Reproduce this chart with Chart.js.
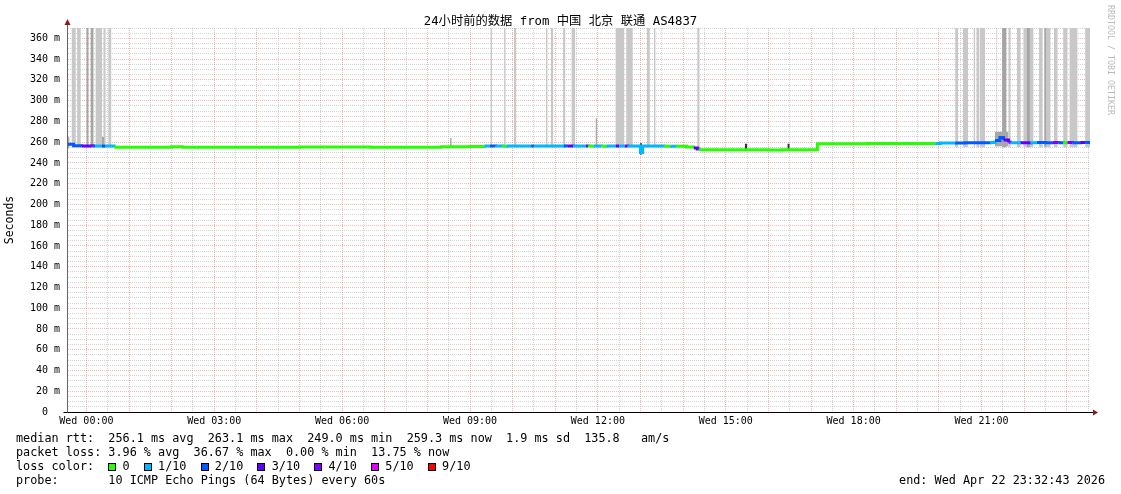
<!DOCTYPE html>
<html>
<head>
<meta charset="utf-8">
<script src="https://cdn.jsdelivr.net/npm/chart.js@4/dist/chart.umd.min.js"></script>
<style>
  body { margin: 0; background: #fff; }
  #wrap { position: relative; width: 1121px; height: 494px; overflow: hidden; }
  #chart { position: absolute; left: 0; top: 0; }
  .mono { font-family: 'DejaVu Sans Mono', 'Noto Sans CJK SC', monospace; color: #000; }
  #title { position: absolute; left: 0; top: 13px; width: 1121px; text-align: center; font-size: 12.3px; line-height: 16px; }
  #credit { position: absolute; left: 1106px; top: 5px; writing-mode: vertical-rl; font-size: 8.3px; color: #bbb; line-height: 10px; }
  #legend { position: absolute; left: 16px; top: 431px; margin: 0; font-size: 11.8px; line-height: 14px; white-space: pre; }
  #end { position: absolute; right: 16px; top: 473px; font-size: 11.8px; line-height: 14px; white-space: pre; }
  .sq { display: inline-block; width: 1ch; height: 8px; vertical-align: -1px; position: relative; }
  .sq i { position: absolute; left: 0; top: 0; width: 8px; height: 8px; box-sizing: border-box; border: 1px solid #000; }
</style>
</head>
<body>
<div id="wrap">
  <canvas id="chart" width="1121" height="494"></canvas>
  <div id="title" class="mono">24小时前的数据 from 中国 北京 联通 AS4837</div>
  <div id="credit" class="mono">RRDTOOL / TOBI OETIKER</div>
  <pre id="legend" class="mono"></pre>
  <div id="end" class="mono"></div>
</div>
<script>
// time axis is minutes from Wed 00:00, window ends Wed 23:32:43
var tStart = -27.28;
var tEnd = 1412.72;

// median rtt (ms) as steps: value holds from this time until the next one
var medTime  = [-27, -18, -7, 5, 9, 13, 22, 27, 39, 120, 135, 300, 400, 500, 540, 560, 568, 576, 586, 591, 626, 630, 672, 678, 685, 703, 706, 714, 725, 732, 745, 750, 758, 762, 780, 783, 813, 822, 830, 845, 855, 860, 862, 900, 940, 960, 980, 1000, 1029, 1100, 1195, 1202, 1223, 1237, 1272, 1279, 1286, 1291, 1298, 1301, 1315, 1329, 1338, 1350, 1360, 1368, 1375, 1381, 1388, 1399, 1406, 1413];
var medValue = [258.0, 256.6, 256.2, 256.5, 256.3, 256.3, 256.2, 256.2, 255.2, 255.5, 255.1, 255.4, 255.1, 255.5, 255.8, 256.3, 256.3, 256.2, 256.0, 256.3, 256.3, 256.3, 256.4, 256.4, 256.3, 256.3, 256.2, 256.3, 256.1, 256.3, 256.3, 256.3, 256.4, 256.3, 250.0, 256.3, 256.0, 256.1, 256.0, 255.4, 254.3, 253.4, 252.8, 252.6, 252.8, 252.4, 252.8, 252.6, 258.5, 258.6, 258.8, 259.1, 259.3, 259.4, 259.6, 261.5, 264.5, 262.0, 259.8, 259.5, 259.4, 259.5, 259.6, 259.5, 259.7, 259.5, 259.4, 259.6, 259.5, 259.7, 259.6, 259.4];
var medLoss  = [2, 2, 3, 4, 2, 1, 2, 1, 0, 0, 0, 0, 0, 0, 0, 1, 2, 1, 0, 1, 2, 1, 2, 3, 1, 3, 0, 1, 0, 1, 3, 1, 4, 1, 1, 1, 0, 1, 0, 0, 3, 3, 0, 0, 0, 0, 0, 0, 0, 0, 1, 1, 2, 2, 1, 2, 2, 3, 4, 1, 3, 1, 2, 2, 4, 2, 0, 4, 2, 3, 2, 2];

// smoke: [from, to] minutes of pings running off the top of the scale
var smokeLight = [[-21, -15], [-13, -8], [13, 22], [24, 27], [31, 35], [569, 571], [588, 590], [602, 605], [647, 649], [654, 657], [671, 674], [683, 688], [745, 757], [760, 769], [789, 793], [799, 801], [860, 863], [1223, 1227], [1234, 1241], [1249, 1251], [1253, 1257], [1258, 1265], [1281, 1282], [1298, 1301], [1310, 1315], [1319, 1333], [1341, 1346], [1348, 1357], [1362, 1367], [1375, 1381], [1384, 1395], [1406, 1413]];
var smokeMid = [[0, 3], [6, 10], [1289, 1295], [1324, 1328], [1349, 1351]];
// short smoke: [from, to, low, high]
var smokeShort = [[-27, -24, 254, 265], [22, 25, 255, 265], [512, 514, 255, 264], [717, 719, 255, 283], [1279, 1298, 256, 270]];
var smokeSpike = [[779, 782, 248, 259], [927, 930, 251.5, 258.5], [987, 990, 252, 258.5]];
var smokeFloor = 255;
var smokeCeil = 400;

var lossLabels = ['0', '1/10', '2/10', '3/10', '4/10', '5/10', '9/10'];
var lossSteps = [0, 1, 2, 3, 4, 5, 9];
var lossColors = ['#26ff00', '#00b8ff', '#0059ff', '#5e00ff', '#7e00ff', '#dd00ff', '#ff0000'];

var yMax = 370;

function lossColor(n) {
  var c = lossColors[0];
  for (var i = 0; i < lossSteps.length; i++) {
    if (n >= lossSteps[i]) c = lossColors[i];
  }
  return c;
}

var medPoints = medTime.map(function(t, i) { return {x: t, y: medValue[i]}; });

// build upper and lower step lines for a smoke band
function band(list, useLow) {
  var pts = [];
  list.forEach(function(s) {
    var lo = s.length > 2 ? s[2] : smokeFloor;
    var hi = s.length > 2 ? s[3] : smokeCeil;
    pts.push({x: s[0], y: useLow ? lo : hi});
    pts.push({x: s[1], y: smokeFloor});
  });
  return pts;
}

function smokeSets(list, color, order) {
  return [
    {data: band(list, false), stepped: true, borderColor: 'rgba(0,0,0,0)', pointRadius: 0, fill: '+1', backgroundColor: color, order: order},
    {data: band(list, true), stepped: true, borderColor: 'rgba(0,0,0,0)', pointRadius: 0, fill: false, order: order}
  ];
}

var gridRed = 'rgba(235,60,60,0.38)';
var gridGrey = 'rgba(150,150,150,0.42)';
var mono = "'DejaVu Sans Mono', monospace";

function pad(n) { return (n < 10 ? '0' : '') + n; }

var arrows = {
  id: 'arrows',
  afterDraw: function(chart) {
    var ctx = chart.ctx, a = chart.chartArea;
    var x0 = Math.round(a.left) + 0.5, y0 = Math.round(a.bottom) + 0.5;
    ctx.save();
    ctx.lineWidth = 1;
    ctx.strokeStyle = '#666';
    ctx.beginPath(); ctx.moveTo(x0, a.top); ctx.lineTo(x0, a.top - 4); ctx.stroke();
    ctx.strokeStyle = '#000';
    ctx.beginPath(); ctx.moveTo(x0 - 4, y0); ctx.lineTo(x0, y0); ctx.stroke();
    ctx.beginPath(); ctx.moveTo(a.right, y0); ctx.lineTo(a.right + 3, y0); ctx.stroke();
    ctx.fillStyle = '#8b1a1a';
    ctx.beginPath(); ctx.moveTo(x0, a.top - 9); ctx.lineTo(x0 - 3, a.top - 3); ctx.lineTo(x0 + 3, a.top - 3); ctx.closePath(); ctx.fill();
    ctx.beginPath(); ctx.moveTo(a.right + 8, y0); ctx.lineTo(a.right + 3, y0 - 3); ctx.lineTo(a.right + 3, y0 + 3); ctx.closePath(); ctx.fill();
    ctx.restore();
  }
};

var datasets = [{
  data: medPoints,
  stepped: true,
  borderWidth: 3,
  borderColor: lossColors[0],
  borderCapStyle: 'butt',
  borderJoinStyle: 'miter',
  pointRadius: 0,
  fill: false,
  order: 0,
  segment: {
    borderColor: function(c) { return lossColor(medLoss[c.p0DataIndex]); }
  }
}].concat(
  smokeSets(smokeSpike, '#333333', 1),
  smokeSets(smokeShort, '#a8a8a8', 2),
  smokeSets(smokeMid, '#a5a5a5', 3),
  smokeSets(smokeLight, '#c8c8c8', 4)
);

new Chart(document.getElementById('chart'), {
  type: 'line',
  data: { datasets: datasets },
  options: {
    responsive: false,
    animation: false,
    devicePixelRatio: 1,
    events: [],
    layout: { padding: { left: 0, right: 31, top: 28, bottom: 64 } },
    plugins: { legend: { display: false }, tooltip: { enabled: false } },
    scales: {
      x: {
        type: 'linear',
        min: tStart,
        max: tEnd,
        afterBuildTicks: function(scale) {
          var ticks = [];
          for (var v = 0; v <= tEnd; v += 30) ticks.push({value: v});
          scale.ticks = ticks;
        },
        afterFit: function(scale) { scale.height = 18; },
        grid: {
          drawTicks: false,
          lineWidth: 1,
          color: function(c) {
            var v = c.tick ? c.tick.value : 1;
            if (v % 60 === 0) return gridRed;
            if (v % 30 === 0) return gridGrey;
            return 'rgba(0,0,0,0)';
          }
        },
        border: { display: true, color: '#000', width: 1, dash: [1, 1], z: 1 },
        ticks: {
          autoSkip: false,
          maxRotation: 0,
          minRotation: 0,
          padding: 3,
          color: '#000',
          font: { family: mono, size: 10 },
          callback: function(v) {
            if (v % 180 !== 0) return '';
            return 'Wed ' + pad(v / 60) + ':00';
          }
        }
      },
      y: {
        min: 0,
        max: yMax,
        afterFit: function(scale) { scale.width = 67; },
        grid: {
          drawTicks: false,
          lineWidth: 1,
          color: function(c) {
            var v = c.tick ? c.tick.value : 1;
            return v % 20 === 0 ? gridRed : gridGrey;
          }
        },
        border: { display: true, color: '#666', width: 1, dash: [1, 1], z: 1 },
        title: {
          display: true,
          text: 'Seconds',
          color: '#000',
          font: { family: mono, size: 11.5 },
          padding: { top: 3, bottom: 0 }
        },
        ticks: {
          stepSize: 5,
          autoSkip: false,
          padding: 7,
          color: '#000',
          font: { family: mono, size: 10 },
          callback: function(v) {
            if (v % 20 !== 0) return '';
            return v === 0 ? '0  ' : v + ' m';
          }
        }
      }
    }
  },
  plugins: [arrows]
});

// legend lines under the chart
var statLines = [
  'median rtt:  256.1 ms avg  263.1 ms max  249.0 ms min  259.3 ms now  1.9 ms sd  135.8   am/s',
  'packet loss: 3.96 % avg  36.67 % max  0.00 % min  13.75 % now'
];
var probeLine = 'probe:       10 ICMP Echo Pings (64 Bytes) every 60s';
var endText = 'end: Wed Apr 22 23:32:43 2026';

var html = statLines.join('\n') + '\nloss color:  ';
lossLabels.forEach(function(l, i) {
  html += '<span class="sq"><i style="background:' + lossColors[i] + '"></i></span> ' + l + '  ';
});
html += '\n' + probeLine;
document.getElementById('legend').innerHTML = html;
document.getElementById('end').textContent = endText;
</script>
</body>
</html>
